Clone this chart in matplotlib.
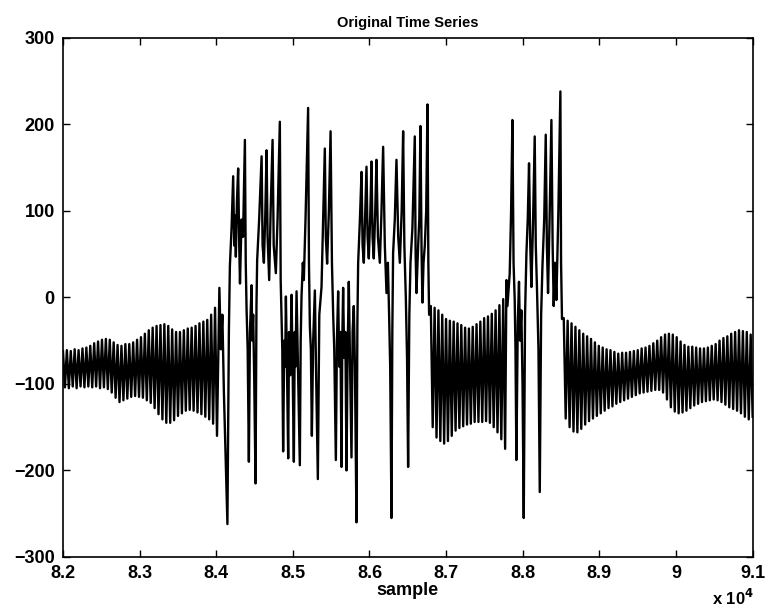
import numpy as np
import matplotlib
matplotlib.use('Agg')
import matplotlib.pyplot as plt

plt.rcParams['font.family'] = ['Liberation Sans', 'DejaVu Sans']

# quiet stretch 1 (82000 - 84010): one peak / trough per cycle
seg1_range = (82000, 84010)
seg1_peaks = [-62, -61, -62, -60, -61, -59, -58, -56, -53, -51,
              -49, -48, -49, -52, -55, -56, -54, -54, -52, -49,
              -46, -42, -38, -35, -33, -32, -31, -33, -37, -40,
              -40, -38, -36, -35, -33, -30, -28, -26, -20, -12]
seg1_troughs = [-104, -105, -103, -105, -103, -104, -103, -104, -103, -105,
                -104, -106, -110, -116, -121, -119, -117, -115, -114, -115,
                -116, -119, -122, -128, -135, -141, -145, -145, -142, -137,
                -134, -131, -130, -131, -133, -135, -138, -141, -146, -160]

# first burst, sample / value pairs
burst1_x = [84041, 84060, 84080, 84100, 84146, 84165, 84178, 84200, 84221, 84235,
            84245, 84256, 84270, 84286, 84300, 84310, 84330, 84350, 84374, 84385,
            84396, 84410, 84426, 84440, 84461, 84470, 84482, 84495, 84513, 84525,
            84534, 84560, 84592, 84605, 84622, 84640, 84657, 84670, 84691, 84710,
            84735, 84750, 84778, 84800, 84830, 84841, 84852, 84862, 84873, 84888,
            84900, 84909, 84920, 84939, 84950, 84965, 84983, 84995, 85013, 85025,
            85035, 85048, 85065, 85091, 85102, 85113, 85130, 85143, 85165, 85199,
            85210, 85222, 85235, 85248, 85265, 85287, 85300, 85326, 85345, 85374,
            85395, 85417, 85430, 85447, 85470, 85492, 85510, 85526, 85540, 85561,
            85575, 85591, 85605, 85620, 85635, 85645, 85656, 85670, 85685, 85700,
            85715, 85730, 85745, 85765, 85780, 85795, 85810, 85830, 85842, 85852,
            85875, 85896, 85910, 85926, 85945, 85961, 85975, 85991, 86010, 86026,
            86040, 86056, 86075, 86091, 86110, 86135, 86155, 86178, 86200, 86222,
            86240, 86256, 86270, 86287, 86298, 86308, 86330, 86352, 86375, 86396,
            86420, 86439, 86455, 86474, 86490, 86504, 86520, 86535, 86560, 86591,
            86602, 86613, 86635, 86650, 86665, 86680, 86691, 86705, 86722, 86740,
            86757, 86768, 86778]
burst1_y = [11, -60, -20, -110, -262, -40, 36, 80, 140, 60,
            95, 47, 110, 149, 60, 16, 90, 70, 182, 40,
            -14, -60, -190, -40, 14, -50, -20, -90, -215, -10,
            43, 90, 163, 60, 40, 95, 170, 70, 20, 100,
            182, 60, 28, 90, 203, 20, -22, -60, -178, -50,
            -80, 1, -60, -186, -40, -90, 3, -70, -190, -40,
            -80, 7, -70, -194, -50, 1, 40, 20, 90, 219,
            40, -34, -60, -160, -50, 8, -70, -210, -20, 12,
            90, 172, 70, 39, 100, 192, 40, -20, -60, -188,
            -50, 7, -80, -40, -196, -50, 11, -70, -40, -200,
            -60, 18, -70, -185, -40, -10, -80, -260, -30, 40,
            90, 145, 60, 40, 100, 151, 70, 45, 95, 157,
            70, 45, 100, 159, 70, 40, 95, 174, 60, 5,
            40, -20, -80, -255, -40, 51, 90, 159, 70, 40,
            100, 192, 60, 0, -70, -196, -20, 40, 80, 186,
            50, 5, 60, 90, 198, 50, -6, 40, 60, 100,
            223, 40, -20]

# quiet stretch 2
seg2_range = (86800, 87770)
seg2_peaks = [-10, -12, -15, -20, -25, -27, -28, -30, -32, -35,
              -36, -34, -31, -28, -24, -22, -19, -15, -9, -2]
seg2_troughs = [-150, -162, -166, -169, -166, -160, -154, -151, -149, -147,
                -146, -144, -144, -144, -143, -145, -150, -156, -164, -175]

# second burst
burst2_x = [87787, 87800, 87830, 87848, 87865, 87880, 87895, 87905, 87917, 87935,
            87951, 87965, 87982, 87997, 88013, 88030, 88048, 88065, 88082, 88098,
            88113, 88135, 88156, 88170, 88186, 88205, 88222, 88240, 88257, 88280,
            88300, 88315, 88330, 88350, 88374, 88390, 88404, 88420, 88439, 88465,
            88491, 88500, 88512]
burst2_y = [20, -10, 28, 100, 205, 40, -3, -60, -188, -30,
            18, -50, -15, -100, -255, -20, 51, 90, 155, 60,
            12, 90, 186, 60, 9, -60, -225, -20, 36, 90,
            188, 60, 5, 90, 205, 60, -10, 40, -3, 100,
            238, 40, -25]

# quiet stretch 3
seg3_range = (88535, 91000)
seg3_peaks = [-24, -27, -30, -34, -38, -42, -45, -48, -52, -56,
              -58, -60, -61, -63, -65, -64, -64, -63, -62, -61,
              -59, -58, -56, -53, -50, -46, -43, -42, -43, -46,
              -51, -55, -57, -57, -58, -59, -59, -58, -56, -54,
              -50, -47, -45, -42, -40, -38, -39, -40, -43]
seg3_troughs = [-140, -150, -155, -156, -152, -147, -143, -140, -137, -134,
                -131, -128, -126, -123, -121, -119, -117, -115, -113, -111,
                -110, -109, -108, -107, -107, -110, -118, -127, -132, -134,
                -133, -131, -128, -125, -123, -121, -120, -119, -118, -119,
                -121, -124, -127, -129, -131, -134, -138, -141, -138]

xtick_vals = [82000, 83000, 84000, 85000, 86000, 87000, 88000, 89000, 90000, 91000]
xtick_labels = ['8.2', '8.3', '8.4', '8.5', '8.6', '8.7', '8.8', '8.9', '9', '9.1']
ytick_vals = [-300, -200, -100, 0, 100, 200, 300]


def quiet(rng, peaks, troughs):
    # alternate peak / trough, evenly spaced over the stretch
    y = np.empty(2 * len(peaks))
    y[0::2] = peaks
    y[1::2] = troughs
    x = np.linspace(rng[0], rng[1], len(y))
    return x, y


x1, y1 = quiet(seg1_range, seg1_peaks, seg1_troughs)
x2, y2 = quiet(seg2_range, seg2_peaks, seg2_troughs)
x3, y3 = quiet(seg3_range, seg3_peaks, seg3_troughs)

x = np.concatenate([x1, burst1_x, x2, burst2_x, x3])
y = np.concatenate([y1, burst1_y, y2, burst2_y, y3])

fig = plt.figure(figsize=(7.68, 6.10), dpi=100)
ax = fig.add_axes([0.082, 0.087, 0.898, 0.851])
ax.plot(x, y, color='black', linewidth=1.7)

ax.set_xlim(82000, 91000)
ax.set_ylim(-300, 300)
ax.set_xticks(xtick_vals)
ax.set_xticklabels(xtick_labels)
ax.set_yticks(ytick_vals)
ax.tick_params(direction='in', top=True, right=True, length=5, width=1,
               labelsize=13, pad=6)
for lab in ax.get_xticklabels() + ax.get_yticklabels():
    lab.set_fontweight('bold')
for s in ax.spines.values():
    s.set_linewidth(1.2)

ax.set_title('Original Time Series', fontsize=10.5, fontweight='bold', pad=8)
ax.set_xlabel('sample', fontsize=13, fontweight='bold', labelpad=0)
fig.text(0.927, 0.008, r'x 10$^{\mathbf{4}}$', fontsize=12, fontweight='bold')

fig.savefig('out.png', dpi=100)
